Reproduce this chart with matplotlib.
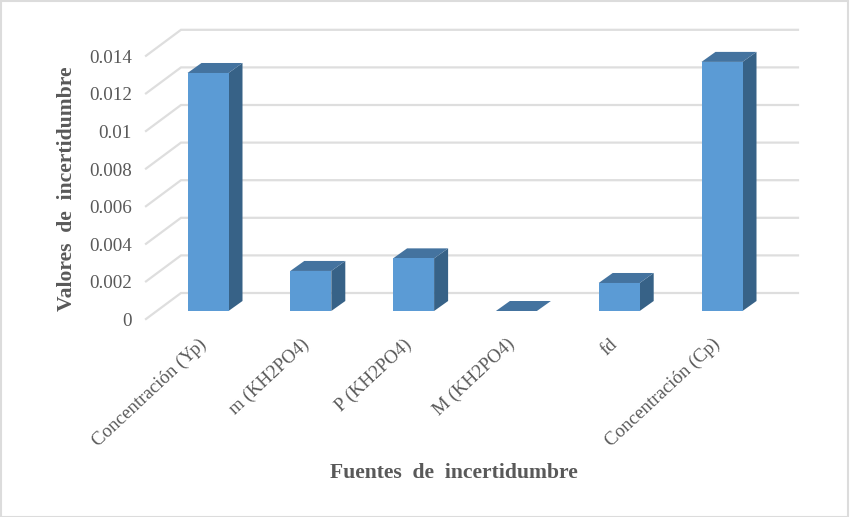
import matplotlib
matplotlib.use('Agg')
import matplotlib.pyplot as plt
from matplotlib.patches import Polygon, Rectangle

categories = ['Concentración (Yp)', 'm (KH2PO4)', 'P (KH2PO4)', 'M (KH2PO4)', 'fd', 'Concentración (Cp)']
values = [0.01266, 0.00213, 0.0028, 0.0, 0.00149, 0.01325]
y_ticks = [0, 0.002, 0.004, 0.006, 0.008, 0.01, 0.012, 0.014]
y_tick_labels = ['0', '0.002', '0.004', '0.006', '0.008', '0.01', '0.012', '0.014']

W, H = 850, 517
PX_X = 102.8           # pixels per category
PX_Y = 37.6 / 0.002    # pixels per unit of value
X0, Y0 = 208, 311      # pixel of first bar centre / bar base

FRONT = '#5B9BD5'
TOP = '#44739F'
SIDE = '#376287'
GRID = '#DEDEDE'
TEXT = '#595959'
SERIF = 'Liberation Serif'

plt.rcParams['font.family'] = SERIF

fig = plt.figure(figsize=(W / 100, H / 100), dpi=100)
ax = fig.add_axes([0, 0, 1, 1])
ax.set_xlim(-X0 / PX_X, (W - X0) / PX_X)
ax.set_ylim((Y0 - H) / PX_Y, Y0 / PX_Y)
ax.axis('off')

bar_w = 41 / PX_X
dep_x, dep_y = 14 / PX_X, 10 / PX_Y       # depth of one bar
back_dy = 18 / PX_Y                       # bar base to back wall
floor_dy = -8 / PX_Y                      # bar base to front floor edge
wall_left = (181 - X0) / PX_X
wall_right = (798 - X0) / PX_X
front_left = (146 - X0) / PX_X

# back wall lines and the slanted lines on the side wall
for t, lab in zip(y_ticks, y_tick_labels):
    ax.plot([front_left, wall_left, wall_right],
            [t + floor_dy, t + back_dy, t + back_dy],
            color=GRID, lw=1.6, solid_joinstyle='miter', zorder=1)
    ax.text((132 - X0) / PX_X, t + floor_dy - 2.5 / PX_Y, lab,
            ha='right', va='center', fontsize=13.7, color=TEXT)

for i, v in enumerate(values):
    l, r = i - bar_w / 2, i + bar_w / 2
    ax.add_patch(Polygon([(r, 0), (r + dep_x, dep_y), (r + dep_x, v + dep_y), (r, v)],
                         color=SIDE, lw=0, zorder=2))
    ax.add_patch(Polygon([(l, v), (l + dep_x, v + dep_y), (r + dep_x, v + dep_y), (r, v)],
                         color=TOP, lw=0, zorder=2))
    ax.bar(i, v, width=bar_w, bottom=0, color=FRONT, zorder=3)
    ax.text(i - 4 / PX_X, -31 / PX_Y, categories[i], rotation=43, rotation_mode='anchor',
            ha='right', va='center', fontsize=13.6, color=TEXT)

ax.text((454 - X0) / PX_X, (Y0 - 473) / PX_Y, 'Fuentes  de  incertidumbre', ha='center', va='center',
        fontsize=15.6, fontweight='bold', color=TEXT)
ax.text((67 - X0) / PX_X, (Y0 - 189) / PX_Y, 'Valores  de  incertidumbre', rotation=90, ha='center', va='center',
        fontsize=15.6, fontweight='bold', color=TEXT)

# frame round the picture
fig.add_artist(Rectangle((1 / W, 0), (W - 3) / W, (H - 1) / H, transform=fig.transFigure,
                         fill=False, edgecolor='#DCDCDC', lw=1.5))

fig.savefig('out.png', dpi=100)
